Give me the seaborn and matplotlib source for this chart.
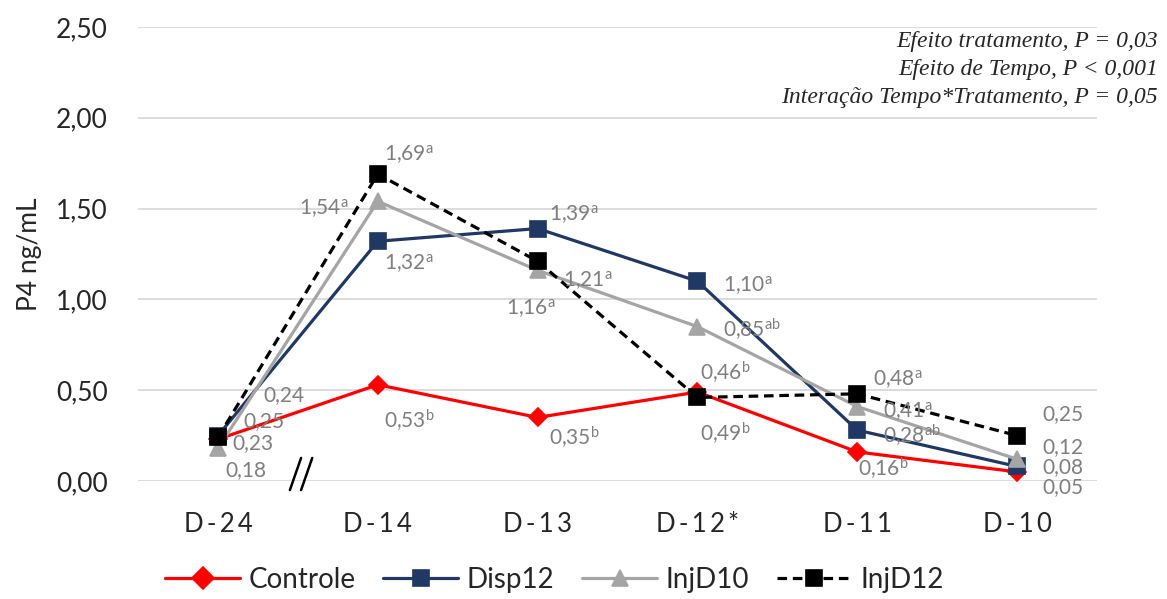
import numpy as np
import pandas as pd
import matplotlib
matplotlib.use("Agg")
import matplotlib.pyplot as plt
from matplotlib.ticker import FixedLocator, FixedFormatter
import seaborn as sns

# ---- data -------------------------------------------------------------
days = ["D-24", "D-14", "D-13", "D-12*", "D-11", "D-10"]
groups = ["Controle", "Disp12", "InjD10", "InjD12"]

controle = [0.23, 0.53, 0.35, 0.49, 0.16, 0.05]
disp12 = [0.25, 1.32, 1.39, 1.10, 0.28, 0.08]
injd10 = [0.18, 1.54, 1.16, 0.85, 0.41, 0.12]
injd12 = [0.24, 1.69, 1.21, 0.46, 0.48, 0.25]

# significance letters per point (empty = none)
letters_controle = ["", "b", "b", "b", "b", ""]
letters_disp12 = ["", "a", "a", "a", "ab", ""]
letters_injd10 = ["", "a", "a", "ab", "a", ""]
letters_injd12 = ["", "a", "a", "b", "a", ""]

y_ticks = [0.0, 0.5, 1.0, 1.5, 2.0, 2.5]
y_tick_labels = ["0,00", "0,50", "1,00", "1,50", "2,00", "2,50"]

stats_lines = [
    "Efeito tratamento, P = 0,03",
    "Efeito de Tempo, P < 0,001",
    "Interação Tempo*Tratamento, P = 0,05",
]

# ---- styling ----------------------------------------------------------
colors = {"Controle": "#FF0000", "Disp12": "#203864",
          "InjD10": "#A5A5A5", "InjD12": "#000000"}
markers = {"Controle": "D", "Disp12": "s", "InjD10": "^", "InjD12": "s"}
dashes = {"Controle": "", "Disp12": "", "InjD10": "", "InjD12": (3, 1.8)}

# label offsets in pixels (left edge, vertical centre) relative to each point
offsets = {
    "Controle": [(14, -4), (6, -35), (11, -20), (3, -41), (1, -16), (25, -15)],
    "Disp12":   [(25, 14), (6, -22), (11, 14), (26, -4), (26, -5), (25, -1)],
    "InjD10":   [(7, -22), (-79, -7), (-32, -38), (26, -3), (26, -5), (25, 12)],
    "InjD12":   [(45, 42), (6, 19), (25, -19), (3, 25), (16, 14), (25, 21)],
}

series = {"Controle": controle, "Disp12": disp12, "InjD10": injd10, "InjD12": injd12}
letters = {"Controle": letters_controle, "Disp12": letters_disp12,
           "InjD10": letters_injd10, "InjD12": letters_injd12}

sns.set_theme(style="white")
plt.rcParams["font.family"] = ["Lato", "DejaVu Sans"]
plt.rcParams["mathtext.default"] = "regular"

df = pd.DataFrame({
    "pos": np.tile(np.arange(len(days)), len(groups)),
    "dia": days * len(groups),
    "grupo": np.repeat(groups, len(days)),
    "p4": controle + disp12 + injd10 + injd12,
})

fig = plt.figure(figsize=(11.67, 5.99), dpi=100)
ax = fig.add_axes([0.1183, 0.197, 0.8217, 0.758])

sns.lineplot(data=df, x="pos", y="p4", hue="grupo", style="grupo",
             hue_order=groups, style_order=groups, palette=colors,
             markers=markers, dashes=dashes, linewidth=2.3, markersize=11,
             markeredgewidth=1.2, ax=ax, legend=True, zorder=3)

for line in ax.get_lines():
    line.set_markeredgecolor(line.get_color())
# diamond and triangle slightly different sizes
for line, g in zip(ax.get_lines(), groups):
    if g == "Controle":
        line.set_markersize(9)
    if g == "InjD10":
        line.set_markersize(12)

ax.set_xlim(-0.5, len(days) - 0.5)
ax.set_ylim(0, 2.5)
ax.yaxis.set_major_locator(FixedLocator(y_ticks))
ax.yaxis.set_major_formatter(FixedFormatter(y_tick_labels))
ax.set_xticks(range(len(days)))
# widen the day labels with thin spaces between characters
ax.set_xticklabels(["\u2009".join(d) for d in days])
ax.tick_params(axis="x", length=0, pad=22, labelsize=18.5)
ax.tick_params(axis="y", length=0, pad=22, labelsize=19)
ax.grid(axis="y", color="#D9D9D9", linewidth=1.3, zorder=0)
ax.set_axisbelow(True)
for s in ax.spines.values():
    s.set_visible(False)
ax.set_xlabel("")
ax.set_ylabel("P4 ng/mL", fontsize=19, labelpad=10)

# value labels with significance letters
for g in groups:
    for i, v in enumerate(series[g]):
        txt = f"{v:.2f}".replace(".", ",")
        if letters[g][i]:
            txt += "$^{" + letters[g][i] + "}$"
        dx, dy = offsets[g][i]
        ax.annotate(txt, xy=(i, v), xytext=(dx, dy), textcoords="offset pixels",
                    ha="left", va="center", fontsize=15, color="#7F7F7F",
                    zorder=5, annotation_clip=False)

# axis break marks between the first two days
for x0 in (0.45, 0.52):
    ax.plot([x0, x0 + 0.07], [-0.05, 0.127], color="black", lw=1.8,
            clip_on=False, zorder=6)

# statistics text
ax.text(1.0 + 61 / 959, 0.99, "\n".join(stats_lines), transform=ax.transAxes,
        ha="right", va="top", fontsize=17, fontstyle="italic",
        family="Liberation Serif", linespacing=1.42)

handles, labels = ax.get_legend_handles_labels()
ax.get_legend().remove()
fig.legend(handles, labels, loc="center", bbox_to_anchor=(0.475, 0.032),
           ncol=4, frameon=False, fontsize=20, handlelength=2.7,
           handletextpad=0.3, columnspacing=1.0)

fig.savefig("out.png", dpi=100)
